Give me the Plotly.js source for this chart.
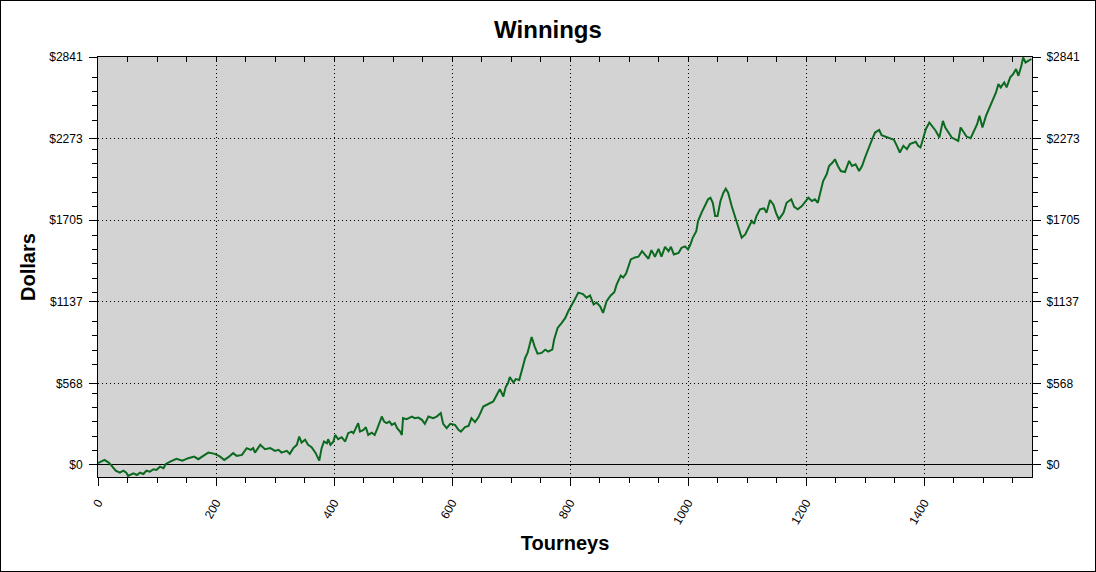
<!DOCTYPE html>
<html>
<head>
<meta charset="utf-8">
<script src="https://cdn.plot.ly/plotly-3.0.1.min.js"></script>
<style>
  html, body { margin: 0; padding: 0; background: #fff; }
  #wrap { position: relative; width: 1096px; height: 572px; }
  #chart { width: 1096px; height: 572px; }
  #frame { position: absolute; left: 0; top: 0; width: 1096px; height: 572px; box-sizing: border-box; border: 1px solid #000; pointer-events: none; }
</style>
</head>
<body>
<div id="wrap"><div id="chart"></div><div id="frame"></div></div>
<script>
const chartTitle = "Winnings";
const xTitle = "Tourneys";
const yTitle = "Dollars";

const tourneys = [0,11,18,22,30,37,43,48,51,54,60,66,71,77,82,88,94,99,105,111,115,125,133,143,153,163,170,181,187,198,207,214,221,229,235,244,252,259,263,266,275,283,292,300,306,311,320,325,331,337,341,345,351,356,362,369,375,379,383,388,390,394,399,402,407,413,419,424,430,433,441,444,450,454,458,464,469,473,481,485,489,494,498,503,507,512,515,517,523,532,537,543,549,554,560,568,574,581,585,591,597,605,611,615,622,628,633,639,645,653,662,670,676,681,687,691,695,698,704,708,714,718,724,728,732,735,740,745,752,758,763,770,773,779,786,792,797,803,808,814,822,828,834,840,845,851,856,862,869,875,879,886,890,895,899,903,910,916,922,927,933,938,944,950,955,961,967,971,976,984,989,995,1000,1004,1008,1014,1017,1023,1029,1034,1038,1042,1046,1050,1055,1060,1064,1068,1074,1080,1085,1091,1097,1102,1108,1112,1116,1122,1129,1133,1139,1145,1149,1154,1162,1167,1175,1180,1186,1193,1198,1204,1210,1215,1220,1224,1229,1235,1239,1245,1249,1254,1259,1266,1273,1278,1284,1290,1295,1300,1306,1312,1317,1324,1328,1335,1342,1349,1354,1359,1365,1371,1376,1382,1386,1390,1394,1399,1403,1409,1415,1420,1426,1432,1436,1441,1447,1453,1458,1462,1468,1472,1479,1485,1490,1494,1499,1505,1511,1516,1522,1526,1530,1536,1540,1546,1551,1556,1560,1565,1568,1572,1577,1582];
const dollars = [12,35,16,0,-40,-54,-40,-54,-77,-70,-58,-70,-54,-63,-40,-47,-30,-35,-12,-23,7,28,42,30,47,58,40,70,86,77,58,35,54,82,63,70,117,105,117,86,140,110,117,98,105,86,98,77,117,140,198,156,175,140,124,82,30,117,163,151,179,140,163,209,179,193,163,221,232,221,291,232,244,263,209,225,209,249,337,302,291,302,279,291,256,232,209,326,319,337,326,330,314,286,337,326,337,361,286,256,286,279,244,232,263,272,326,298,333,407,426,442,489,528,477,542,570,612,574,598,591,651,745,780,849,891,826,775,780,803,790,803,872,954,989,1024,1070,1110,1152,1200,1190,1165,1180,1117,1131,1105,1059,1140,1180,1203,1256,1319,1305,1333,1384,1431,1445,1450,1489,1466,1436,1496,1450,1505,1450,1519,1489,1519,1466,1477,1512,1522,1500,1535,1582,1628,1698,1757,1803,1850,1861,1826,1733,1733,1838,1896,1924,1896,1803,1722,1652,1582,1605,1652,1698,1680,1733,1780,1787,1757,1845,1810,1757,1710,1757,1826,1850,1798,1780,1803,1826,1861,1838,1850,1826,1885,1977,2024,2082,2106,2129,2082,2047,2040,2117,2082,2094,2047,2082,2141,2211,2268,2315,2333,2296,2286,2273,2264,2222,2176,2222,2199,2234,2245,2250,2222,2211,2280,2338,2385,2350,2326,2280,2396,2350,2315,2280,2268,2257,2350,2315,2287,2275,2326,2373,2431,2350,2431,2490,2548,2594,2652,2629,2664,2629,2699,2722,2757,2710,2780,2838,2803,2815,2827];

const yTickVals = [0, 568, 1137, 1705, 2273, 2841];
const yTickText = ["$0", "$568", "$1137", "$1705", "$2273", "$2841"];

const xMax = 1583;
const yMin = -84, yMax = 2841;

// minor y ticks at every 100, skipping ones crowding a labelled tick
const yMinor = [];
for (let v = 100; v < yMax; v += 100) {
  if (yTickVals.every(t => Math.abs(t - v) > 45)) yMinor.push(v);
}

const FONT = "Arial, 'Liberation Sans', sans-serif";
const tickFont = { family: FONT, size: 12, color: "#000" };
const DOTS = "1px,3px";

const traces = [
  {
    x: tourneys, y: dollars, type: "scatter", mode: "lines",
    line: { color: "#0b6a1f", width: 2 }, xaxis: "x", yaxis: "y", hoverinfo: "skip"
  },
  { x: [], y: [], type: "scatter", mode: "lines", xaxis: "x2", yaxis: "y2", hoverinfo: "skip", showlegend: false }
];

const layout = {
  width: 1096, height: 572,
  margin: { l: 98, r: 64, t: 57, b: 95, pad: 0 },
  paper_bgcolor: "#fff",
  plot_bgcolor: "#d3d3d3",
  showlegend: false,
  title: {
    text: "<b>" + chartTitle + "</b>",
    font: { family: FONT, size: 24, color: "#000" },
    x: 0.5, xanchor: "center", y: 1 - 30 / 572, yanchor: "middle", yref: "container"
  },
  xaxis: {
    range: [0, xMax], tickmode: "linear", tick0: 0, dtick: 200,
    ticks: "outside", ticklen: 8, tickwidth: 1, tickcolor: "#000",
    tickangle: -60, tickfont: tickFont, ticklabelstandoff: 5,
    showgrid: true, gridcolor: "#000", griddash: DOTS, gridwidth: 1,
    showline: true, linecolor: "#000", linewidth: 1, mirror: true,
    zeroline: false,
    minor: { dtick: 50, tick0: 0, ticks: "outside", ticklen: 5, tickcolor: "#000", tickwidth: 1, showgrid: false },
    title: { text: "<b>" + xTitle + "</b>", font: { family: FONT, size: 20, color: "#000" }, standoff: 9 }
  },
  yaxis: {
    range: [yMin, yMax], tickmode: "array", tickvals: yTickVals, ticktext: yTickText,
    ticks: "outside", ticklen: 8, tickwidth: 1, tickcolor: "#000", tickfont: tickFont,
    ticklabelstandoff: 4,
    showgrid: true, gridcolor: "#000", griddash: DOTS, gridwidth: 1,
    showline: true, linecolor: "#000", linewidth: 1, mirror: false,
    zeroline: true, zerolinecolor: "#000", zerolinewidth: 1,
    minor: { tickmode: "array", tickvals: yMinor, ticks: "outside", ticklen: 5, tickcolor: "#000", tickwidth: 1, showgrid: false },
    title: { text: "<b>" + yTitle + "</b>", font: { family: FONT, size: 20, color: "#000" }, standoff: 8 }
  },
  xaxis2: {
    overlaying: "x", side: "top", anchor: "y2", range: [0, xMax],
    tickmode: "linear", tick0: 0, dtick: 50, ticks: "inside", ticklen: 5, tickcolor: "#000",
    showticklabels: false, showgrid: false, zeroline: false, showline: false
  },
  yaxis2: {
    overlaying: "y", side: "right", anchor: "x2", range: [yMin, yMax],
    tickmode: "array", tickvals: yTickVals, ticktext: yTickText,
    ticks: "outside", ticklen: 8, tickwidth: 1, tickcolor: "#000", tickfont: tickFont,
    ticklabelstandoff: 3,
    showgrid: false, zeroline: false,
    showline: true, linecolor: "#000", linewidth: 1,
    minor: { tickmode: "array", tickvals: yMinor, ticks: "outside", ticklen: 5, tickcolor: "#000", tickwidth: 1, showgrid: false }
  }
};

Plotly.newPlot("chart", traces, layout, { displayModeBar: false, staticPlot: true });
</script>
</body>
</html>
